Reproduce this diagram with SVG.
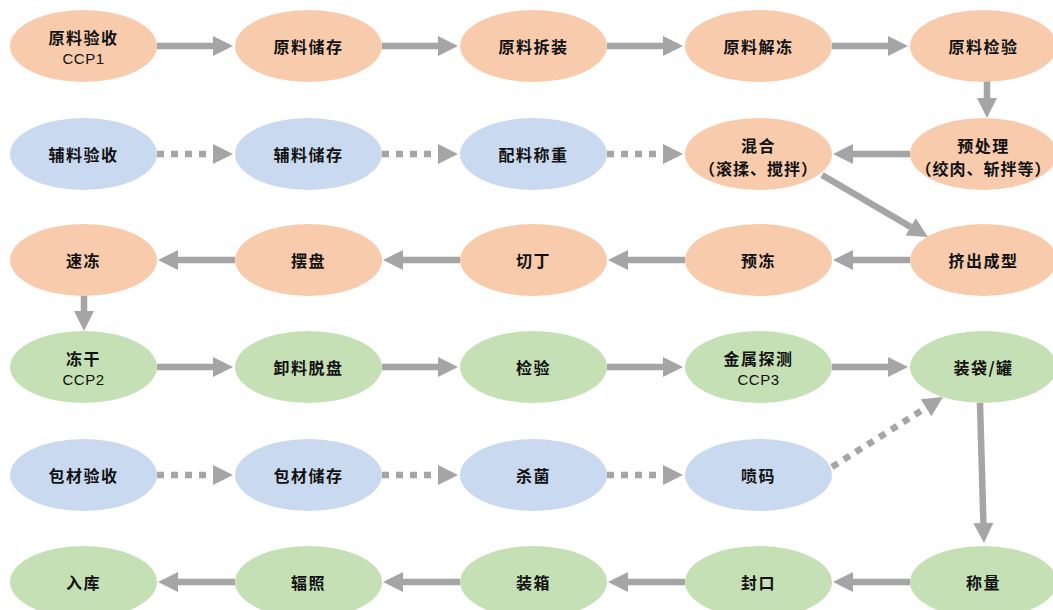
<svg xmlns="http://www.w3.org/2000/svg" width="1053" height="610" viewBox="0 0 1053 610">
<defs>
<style>
.o{fill:#F8CBAD}
.b{fill:#C9D9EF}
.g{fill:#C5E0B4}
.t{font-family:"Noto Sans CJK SC","Liberation Sans",sans-serif;font-size:16px;font-weight:bold;fill:#111;text-anchor:middle;dominant-baseline:central;letter-spacing:1.5px}
.s{font-family:"Liberation Sans","Noto Sans CJK SC",sans-serif;font-size:15px;fill:#111;text-anchor:middle;dominant-baseline:central;letter-spacing:0.5px}
.sub{font-family:"Noto Sans CJK SC","Liberation Sans",sans-serif;font-size:16px;font-weight:bold;fill:#111;text-anchor:middle;dominant-baseline:central;letter-spacing:1px}
.a{stroke:#A5A5A5;stroke-width:6.5;fill:none;marker-end:url(#h)}
.d{stroke:#A5A5A5;stroke-width:6.5;fill:none;stroke-dasharray:7 7;marker-end:url(#h)}
</style>
<marker id="h" markerUnits="userSpaceOnUse" markerWidth="21" markerHeight="20" refX="0" refY="10" orient="auto" overflow="visible">
<path d="M0,0 L20,10 L0,20 z" fill="#A5A5A5"/>
</marker>
</defs>
<rect width="1053" height="610" fill="#ffffff"/>
<g id="connectors">
<line class="a" x1="157" y1="46" x2="213" y2="46"/>
<line class="a" x1="382" y1="46" x2="438" y2="46"/>
<line class="a" x1="607" y1="46" x2="663" y2="46"/>
<line class="a" x1="832" y1="46" x2="888" y2="46"/>
<line class="a" x1="987" y1="81" x2="987" y2="98"/>
<line class="d" x1="157" y1="154" x2="213" y2="154"/>
<line class="d" x1="382" y1="154" x2="438" y2="154"/>
<line class="d" x1="607" y1="154" x2="663" y2="154"/>
<line class="a" x1="910" y1="154" x2="853" y2="154"/>
<line class="a" x1="822" y1="175" x2="910.7" y2="226.9"/>
<line class="a" x1="910" y1="260" x2="853" y2="260"/>
<line class="a" x1="685" y1="260" x2="628" y2="260"/>
<line class="a" x1="460" y1="260" x2="403" y2="260"/>
<line class="a" x1="235" y1="260" x2="178" y2="260"/>
<line class="a" x1="84" y1="296" x2="84" y2="311"/>
<line class="a" x1="157" y1="367" x2="213" y2="367"/>
<line class="a" x1="382" y1="367" x2="438" y2="367"/>
<line class="a" x1="607" y1="367" x2="663" y2="367"/>
<line class="a" x1="832" y1="367" x2="888" y2="367"/>
<line class="d" x1="157" y1="475" x2="213" y2="475"/>
<line class="d" x1="382" y1="475" x2="438" y2="475"/>
<line class="d" x1="607" y1="475" x2="663" y2="475"/>
<line class="d" x1="832" y1="467" x2="926.1" y2="407.7"/>
<line class="a" x1="980" y1="403" x2="983.4" y2="523"/>
<line class="a" x1="910" y1="582" x2="853" y2="582"/>
<line class="a" x1="685" y1="582" x2="628" y2="582"/>
<line class="a" x1="460" y1="582" x2="403" y2="582"/>
<line class="a" x1="235" y1="582" x2="178" y2="582"/>
</g>
<g id="n1"><ellipse class="o" cx="83.5" cy="46" rx="73.5" ry="36"/><text class="t" x="83.5" y="37">原料验收</text><text class="s" x="83.5" y="58">CCP1</text></g>
<g id="n2"><ellipse class="o" cx="308.5" cy="46" rx="73.5" ry="36"/><text class="t" x="308.5" y="46">原料储存</text></g>
<g id="n3"><ellipse class="o" cx="533.5" cy="46" rx="73.5" ry="36"/><text class="t" x="533.5" y="46">原料拆装</text></g>
<g id="n4"><ellipse class="o" cx="758.5" cy="46" rx="73.5" ry="36"/><text class="t" x="758.5" y="46">原料解冻</text></g>
<g id="n5"><ellipse class="o" cx="983.5" cy="46" rx="73.5" ry="36"/><text class="t" x="983.5" y="46">原料检验</text></g>
<g id="n6"><ellipse class="b" cx="83.5" cy="154" rx="73.5" ry="36"/><text class="t" x="83.5" y="154">辅料验收</text></g>
<g id="n7"><ellipse class="b" cx="308.5" cy="154" rx="73.5" ry="36"/><text class="t" x="308.5" y="154">辅料储存</text></g>
<g id="n8"><ellipse class="b" cx="533.5" cy="154" rx="73.5" ry="36"/><text class="t" x="533.5" y="154">配料称重</text></g>
<g id="n9"><ellipse class="o" cx="758.5" cy="154" rx="73.5" ry="36"/><text class="t" x="758.5" y="145">混合</text><text class="sub" x="758.5" y="168">（滚揉、搅拌）</text></g>
<g id="n10"><ellipse class="o" cx="983.5" cy="154" rx="73.5" ry="36"/><text class="t" x="983.5" y="145">预处理</text><text class="sub" x="983.5" y="168">（绞肉、斩拌等）</text></g>
<g id="n11"><ellipse class="o" cx="83.5" cy="260" rx="73.5" ry="36"/><text class="t" x="83.5" y="260">速冻</text></g>
<g id="n12"><ellipse class="o" cx="308.5" cy="260" rx="73.5" ry="36"/><text class="t" x="308.5" y="260">摆盘</text></g>
<g id="n13"><ellipse class="o" cx="533.5" cy="260" rx="73.5" ry="36"/><text class="t" x="533.5" y="260">切丁</text></g>
<g id="n14"><ellipse class="o" cx="758.5" cy="260" rx="73.5" ry="36"/><text class="t" x="758.5" y="260">预冻</text></g>
<g id="n15"><ellipse class="o" cx="983.5" cy="260" rx="73.5" ry="36"/><text class="t" x="983.5" y="260">挤出成型</text></g>
<g id="n16"><ellipse class="g" cx="83.5" cy="367" rx="73.5" ry="36"/><text class="t" x="83.5" y="358">冻干</text><text class="s" x="83.5" y="379">CCP2</text></g>
<g id="n17"><ellipse class="g" cx="308.5" cy="367" rx="73.5" ry="36"/><text class="t" x="308.5" y="367">卸料脱盘</text></g>
<g id="n18"><ellipse class="g" cx="533.5" cy="367" rx="73.5" ry="36"/><text class="t" x="533.5" y="367">检验</text></g>
<g id="n19"><ellipse class="g" cx="758.5" cy="367" rx="73.5" ry="36"/><text class="t" x="758.5" y="358">金属探测</text><text class="s" x="758.5" y="379">CCP3</text></g>
<g id="n20"><ellipse class="g" cx="983.5" cy="367" rx="73.5" ry="36"/><text class="t" x="983.5" y="367">装袋/罐</text></g>
<g id="n21"><ellipse class="b" cx="83.5" cy="475" rx="73.5" ry="36"/><text class="t" x="83.5" y="475">包材验收</text></g>
<g id="n22"><ellipse class="b" cx="308.5" cy="475" rx="73.5" ry="36"/><text class="t" x="308.5" y="475">包材储存</text></g>
<g id="n23"><ellipse class="b" cx="533.5" cy="475" rx="73.5" ry="36"/><text class="t" x="533.5" y="475">杀菌</text></g>
<g id="n24"><ellipse class="b" cx="758.5" cy="475" rx="73.5" ry="36"/><text class="t" x="758.5" y="475">喷码</text></g>
<g id="n25"><ellipse class="g" cx="83.5" cy="582" rx="73.5" ry="36"/><text class="t" x="83.5" y="582">入库</text></g>
<g id="n26"><ellipse class="g" cx="308.5" cy="582" rx="73.5" ry="36"/><text class="t" x="308.5" y="582">辐照</text></g>
<g id="n27"><ellipse class="g" cx="533.5" cy="582" rx="73.5" ry="36"/><text class="t" x="533.5" y="582">装箱</text></g>
<g id="n28"><ellipse class="g" cx="758.5" cy="582" rx="73.5" ry="36"/><text class="t" x="758.5" y="582">封口</text></g>
<g id="n29"><ellipse class="g" cx="983.5" cy="582" rx="73.5" ry="36"/><text class="t" x="983.5" y="582">称量</text></g>
</svg>
